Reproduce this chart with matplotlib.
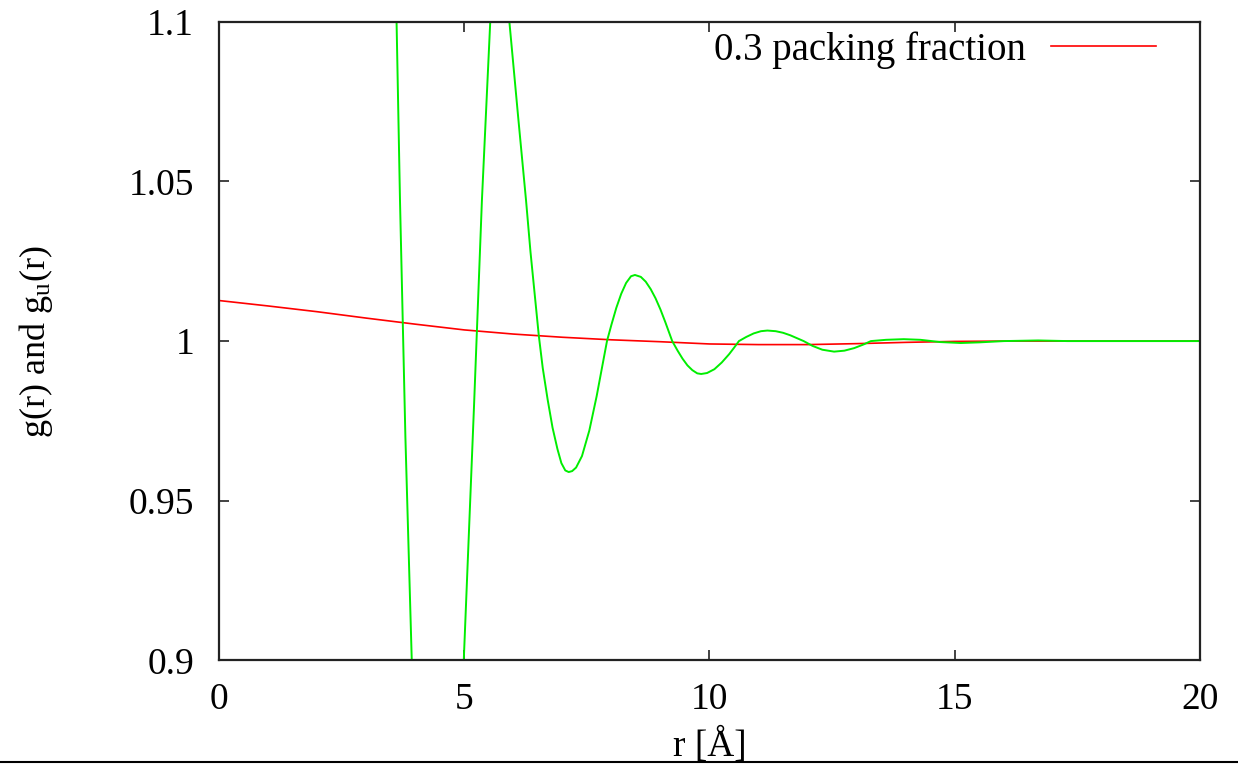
import matplotlib
matplotlib.use("Agg")
import matplotlib.pyplot as plt
from matplotlib.lines import Line2D

plt.rcParams['font.family'] = ['Liberation Serif', 'DejaVu Serif']
plt.rcParams['mathtext.fontset'] = 'custom'
plt.rcParams['mathtext.rm'] = 'Liberation Serif'
plt.rcParams['mathtext.default'] = 'regular'

# g_u(r), smooth curve (red)
r_u = [0, 1, 2, 3, 4, 5, 6, 7, 8, 9, 10, 11, 12, 13, 14, 15, 16, 18, 20]
g_u = [1.0127, 1.0110, 1.0092, 1.0072, 1.0053, 1.0035, 1.0022, 1.0012, 1.0004,
       0.9998, 0.9991, 0.9989, 0.9989, 0.9992, 0.9996, 0.9999, 1.0, 1.0, 1.0]

# g(r), oscillating curve (green)
r_g = [3.40, 3.50, 3.62, 3.69, 3.80, 3.93, 4.10, 4.30, 4.45, 4.60, 4.80, 4.99,
       5.20, 5.36, 5.53, 5.65, 5.75, 5.83, 5.92, 6.10, 6.26, 6.35, 6.52,
       6.60, 6.70, 6.80, 6.90, 6.98, 7.06, 7.13, 7.20, 7.28, 7.40, 7.55, 7.70,
       7.80, 7.91,
       8.00, 8.10, 8.20, 8.30, 8.40, 8.48, 8.60, 8.70, 8.80, 8.90, 9.00, 9.10,
       9.24, 9.35, 9.45, 9.55, 9.65, 9.75, 9.83, 9.95, 10.10, 10.25, 10.40,
       10.50, 10.60, 10.75, 10.90, 11.05, 11.18, 11.35, 11.50, 11.65, 11.80,
       11.92, 12.10, 12.30, 12.54, 12.75, 12.95, 13.15, 13.29, 13.60, 13.96,
       14.30, 14.70, 15.12, 15.50, 16.00, 16.70, 17.30, 18.50, 20.00]
g_g = [1.26, 1.18, 1.10, 1.044, 0.97, 0.90, 0.80, 0.745, 0.735, 0.76, 0.83, 0.90,
       0.98, 1.044, 1.10, 1.122, 1.125, 1.116, 1.10, 1.07, 1.044, 1.028, 1.0017,
       0.9916, 0.9817, 0.9729, 0.9662, 0.9618, 0.9595, 0.9590, 0.9593, 0.9604,
       0.9640, 0.9720, 0.9828,
       0.9910, 1.0000,
       1.0051, 1.0104, 1.0148, 1.0182, 1.0203, 1.0207, 1.0201, 1.0186, 1.0163,
       1.0134, 1.0099, 1.0059,
       1.0000, 0.9970, 0.9945, 0.9924, 0.9909, 0.9899, 0.9897, 0.9900, 0.9912,
       0.9933, 0.9959,
       0.9979, 1.0000, 1.0013, 1.0024, 1.0031, 1.0033, 1.0031, 1.0026, 1.0018,
       1.0008,
       1.0000, 0.9985, 0.9973, 0.9967, 0.9970, 0.9978, 0.9990, 1.0000, 1.0004,
       1.0006,
       1.0004, 0.9997, 0.9994, 0.9996, 1.0000, 1.0002, 1.0000, 1.0, 1.0]

xticks = [0, 5, 10, 15, 20]
yticks = [0.9, 0.95, 1.0, 1.05, 1.1]
yticklabels = ['0.9', '0.95', '1', '1.05', '1.1']

fig = plt.figure(figsize=(12.38, 7.64), dpi=100)
ax = fig.add_axes([0.1769, 0.1355, 0.7924, 0.8361])

ax.plot(r_u, g_u, color='#ff0000', lw=1.2, label='0.3 packing fraction')
ax.plot(r_g, g_g, color='#00ee00', lw=1.4)

ax.set_xlim(0, 20)
ax.set_ylim(0.9, 1.1)
ax.set_xticks(xticks)
ax.set_xticklabels([str(t) for t in xticks])
ax.set_yticks(yticks)
ax.set_yticklabels(yticklabels)
ax.tick_params(direction='in', length=7, width=1.2, labelsize=27,
               top=True, right=True, color='#222222')
ax.tick_params(axis='x', pad=16)
ax.tick_params(axis='y', pad=18)
for s in ax.spines.values():
    s.set_linewidth(1.6)
    s.set_color('#222222')

# axis titles placed in figure pixels, as in the original
fig.text(36 / 1238, 1 - 342 / 764, r'g(r) and g$_{u}$(r)', fontsize=26,
         rotation=90, ha='center', va='center')
fig.text(710 / 1238, 1 - 728 / 764, 'r [Å]', fontsize=27, ha='center', va='top')

leg = ax.legend(loc='upper right', bbox_to_anchor=(0.955, 0.985), frameon=False,
                markerfirst=False, fontsize=28, handlelength=2.7,
                handletextpad=0.64, borderpad=0, borderaxespad=0)

fig.add_artist(Line2D([0, 1], [0.002, 0.002], color='black', lw=1.5,
                      transform=fig.transFigure))

fig.savefig('out.png', dpi=100)
